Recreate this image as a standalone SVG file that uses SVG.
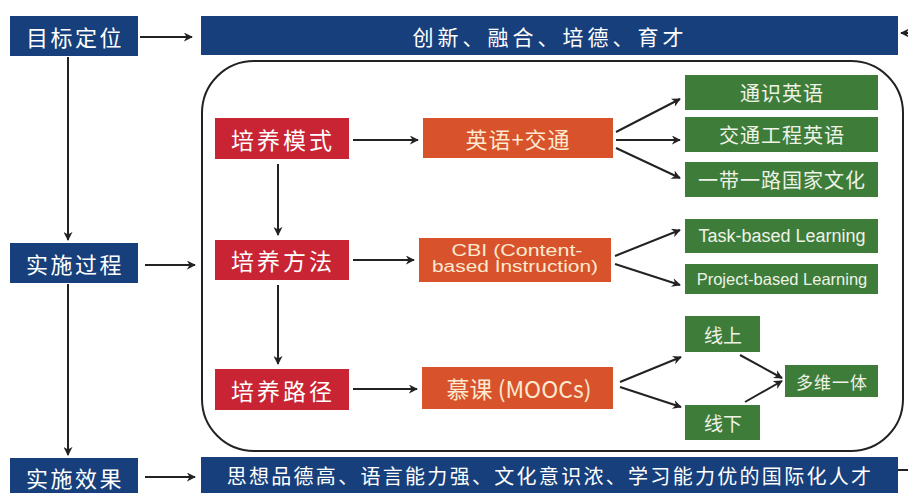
<svg xmlns="http://www.w3.org/2000/svg" width="908" height="493" viewBox="0 0 908 493">
<defs>
<marker id="ah" viewBox="0 0 10 10" refX="9" refY="5" markerWidth="9" markerHeight="9" markerUnits="userSpaceOnUse" orient="auto">
<path d="M0,0 L10,5 L0,10 L3,5 Z" fill="#222"/>
</marker>
<style>
.blue{fill:#173f7c}
.red{fill:#c92433}
.org{fill:#d8522b}
.grn{fill:#3e7c3a}
.cn{font-family:"Noto Sans CJK SC","Noto Sans",sans-serif;text-anchor:middle;dominant-baseline:central}
.en{font-family:"Liberation Sans",Arial,sans-serif;text-anchor:middle;dominant-baseline:central}
.w{fill:#ffffff}
.cr{fill:#fbe9d0}
.gt{fill:#eef3e6}
.c{fill:none;stroke:#222;stroke-width:2;marker-end:url(#ah)}
.l{fill:none;stroke:#222;stroke-width:2}
</style>
</defs>
<rect width="908" height="493" fill="#ffffff"/>

<g id="frame">
<rect x="202" y="61" width="701" height="390" rx="52" ry="52" fill="none" stroke="#222" stroke-width="2"/>
</g>

<g id="n-goal"><rect class="blue" x="10" y="16" width="128" height="40"/><text class="cn w" x="75" y="36" font-size="22" letter-spacing="2.5">目标定位</text></g>
<g id="n-goal-text"><rect class="blue" x="201" y="16" width="697" height="39"/><text class="cn w" x="550" y="35.5" font-size="21" letter-spacing="4">创新、融合、培德、育才</text></g>
<g id="n-process"><rect class="blue" x="10" y="243" width="128" height="40"/><text class="cn w" x="75" y="263" font-size="22" letter-spacing="2.5">实施过程</text></g>
<g id="n-effect"><rect class="blue" x="10" y="458" width="128" height="40"/><text class="cn w" x="75" y="477" font-size="22" letter-spacing="2.5">实施效果</text></g>
<g id="n-effect-text"><rect class="blue" x="201" y="457" width="697" height="40"/><text class="cn w" x="550" y="475" font-size="20" letter-spacing="2.3">思想品德高、语言能力强、文化意识浓、学习能力优的国际化人才</text></g>

<g id="n-mode"><rect class="red" x="215" y="118" width="134" height="41"/><text class="cn w" x="283" y="138.5" font-size="23" letter-spacing="3">培养模式</text></g>
<g id="n-method"><rect class="red" x="215" y="240" width="134" height="40"/><text class="cn w" x="283" y="260" font-size="23" letter-spacing="3">培养方法</text></g>
<g id="n-path"><rect class="red" x="215" y="369" width="134" height="41"/><text class="cn w" x="283" y="389.5" font-size="23" letter-spacing="3">培养路径</text></g>

<g id="n-eng"><rect class="org" x="423" y="118" width="190" height="40"/><text class="cn cr" x="518" y="138" font-size="22" letter-spacing="1">英语+交通</text></g>
<g id="n-cbi"><rect class="org" x="419" y="238" width="192" height="44"/><text class="en cr" x="517" y="250" font-size="17" textLength="131" lengthAdjust="spacingAndGlyphs">CBI (Content-</text><text class="en cr" x="515" y="266.5" font-size="16" textLength="166" lengthAdjust="spacingAndGlyphs">based Instruction)</text></g>
<g id="n-mooc"><rect class="org" x="422" y="367" width="191" height="42"/><text class="cn cr" x="519" y="388" font-size="23">慕课 (MOOCs)</text></g>

<g id="n-g1"><rect class="grn" x="685" y="75" width="193" height="35"/><text class="cn gt" x="782" y="92.5" font-size="20" letter-spacing="1">通识英语</text></g>
<g id="n-g2"><rect class="grn" x="685" y="117" width="193" height="35"/><text class="cn gt" x="782" y="134.5" font-size="20" letter-spacing="1">交通工程英语</text></g>
<g id="n-g3"><rect class="grn" x="685" y="162" width="193" height="35"/><text class="cn gt" x="782" y="179.5" font-size="20" letter-spacing="1">一带一路国家文化</text></g>
<g id="n-task"><rect class="grn" x="685" y="219" width="193" height="34"/><text class="en gt" x="782" y="236" font-size="18">Task-based Learning</text></g>
<g id="n-proj"><rect class="grn" x="685" y="264" width="193" height="30"/><text class="en gt" x="782" y="279" font-size="16.5">Project-based Learning</text></g>
<g id="n-online"><rect class="grn" x="685" y="316" width="75" height="36"/><text class="cn gt" x="723" y="334" font-size="19">线上</text></g>
<g id="n-offline"><rect class="grn" x="685" y="405" width="75" height="35"/><text class="cn gt" x="723" y="422.5" font-size="19">线下</text></g>
<g id="n-multi"><rect class="grn" x="785" y="365" width="93" height="32"/><text class="cn gt" x="832" y="381" font-size="17" letter-spacing="1">多维一体</text></g>

<g id="connectors">
<path class="c" d="M140,37 L192,37"/>
<path class="c" d="M68,57 L68,240"/>
<path class="c" d="M68,284 L68,455"/>
<path class="c" d="M145,265 L195,265"/>
<path class="c" d="M145,477 L195,477"/>
<path class="c" d="M278,164 L278,235"/>
<path class="c" d="M278,285 L278,364"/>
<path class="c" d="M353,140 L418,140"/>
<path class="c" d="M353,260 L414,260"/>
<path class="c" d="M353,389 L417,389"/>
<path class="c" d="M616,132 L680,99"/>
<path class="c" d="M616,140 L680,140"/>
<path class="c" d="M616,148 L680,178"/>
<path class="c" d="M615,256 L680,230"/>
<path class="c" d="M615,264 L680,285"/>
<path class="c" d="M620,382 L681,357"/>
<path class="c" d="M620,387 L681,407"/>
<path class="c" d="M740,355 L782,378"/>
<path class="c" d="M745,402 L782,381"/>
<path class="c" d="M910,33 L901,33"/>
<path class="l" d="M898,470 L908,470"/>
</g>
</svg>
